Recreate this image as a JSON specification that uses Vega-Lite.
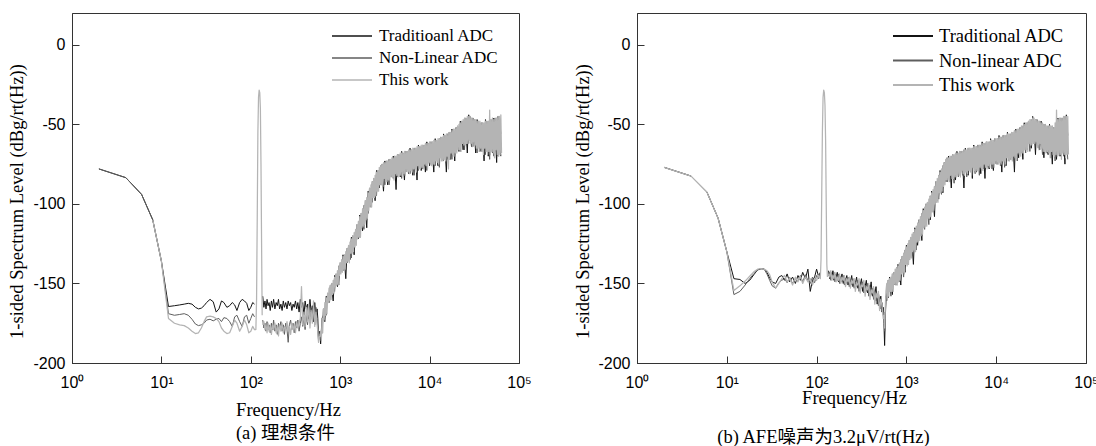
{
"$schema":"https://vega.github.io/schema/vega-lite/v6.json",
"padding":{"left":6,"top":12,"right":0,"bottom":0},
"background":"white",
"spacing":118,
"bounds":"flush",
"resolve":{"scale":{"color":"independent"},"legend":{"color":"independent"}},
"config":{
 "view":{"stroke":"#333333","strokeWidth":1},
 "axis":{"grid":false,"domainColor":"#333333","tickColor":"#333333","tickSize":-7,"labelFont":"Liberation Sans","labelFontSize":16,"labelColor":"#000000","titleFont":"Liberation Serif","titleFontSize":18.5,"titleFontWeight":"normal","titleColor":"#000000"},
 "legend":{"labelFont":"Liberation Serif","labelColor":"#000000","padding":0},
 "title":{"font":"Liberation Serif, Noto Sans CJK SC","fontSize":18.5,"fontWeight":"normal","color":"#000000","orient":"bottom","anchor":"middle","baseline":"alphabetic"}
},
"datasets":{
"a":[
{"f":2,"T":-78,"N":-78,"g":1},{"f":4,"T":-83.5,"N":-83.5,"g":1},{"f":6,"T":-94,"N":-94,"g":1},{"f":8,"T":-110,"N":-110,"W":-110,"g":1},{"f":10,"T":-136,"N":-136,"W":-136,"g":1},
{"f":12,"T":-164.5,"N":-169,"W":-172,"g":1},{"f":14,"T":-164,"N":-170,"W":-175,"g":1},{"f":16,"T":-163.5,"N":-169.5,"W":-176,"g":1},{"f":18,"T":-163,"N":-169,"W":-176.5,"g":1},{"f":20,"T":-162.5,"N":-170,"W":-178,"g":1},
{"f":22,"T":-163,"N":-172.5,"W":-180,"g":1},{"f":24,"T":-165,"N":-175.5,"W":-181.5,"g":1},{"f":26,"T":-166,"N":-176.5,"W":-181,"g":1},{"f":28,"T":-165.5,"N":-176,"W":-178,"g":1},{"f":30,"T":-164,"N":-175,"W":-174,"g":1},
{"f":32,"T":-162,"N":-173,"W":-171,"g":1},{"f":35,"T":-160,"N":-172.5,"W":-170.5,"g":1},{"f":38,"T":-161.5,"N":-173.5,"W":-171,"g":1},{"f":41,"T":-168,"N":-172.5,"W":-172,"g":1},{"f":44,"T":-166,"N":-172,"W":-174,"g":1},
{"f":47,"T":-161,"N":-174,"W":-178,"g":1},{"f":50,"T":-162,"N":-171.5,"W":-180,"g":1},{"f":54,"T":-165,"N":-172,"W":-181.5,"g":1},{"f":58,"T":-164,"N":-174,"W":-181,"g":1},{"f":62,"T":-162,"N":-177,"W":-177,"g":1},
{"f":66,"T":-163.5,"N":-171,"W":-173,"g":1},{"f":70,"T":-167,"N":-170,"W":-175,"g":1},{"f":75,"T":-162,"N":-174,"W":-180,"g":1},{"f":80,"T":-160,"N":-177,"W":-177,"g":1},{"f":85,"T":-161,"N":-171,"W":-173,"g":1},
{"f":90,"T":-162.5,"N":-170,"W":-176,"g":1},{"f":95,"T":-167,"N":-175,"W":-181,"g":1},{"f":100,"T":-165,"N":-172,"W":-180,"g":1},{"f":105,"T":-162,"N":-169,"W":-177,"g":1},{"f":110,"T":-163,"N":-171,"W":-179,"g":1},
{"f":114,"W":-179,"g":1},{"f":116,"W":-160,"g":1},{"f":118,"W":-110,"g":1},{"f":120,"W":-55,"g":1},{"f":122,"W":-33,"g":1},{"f":124,"W":-28.5,"g":1},{"f":126,"W":-30,"g":1},{"f":128,"W":-40,"g":1},{"f":130,"W":-75,"g":1},{"f":132,"W":-125,"g":1},{"f":134,"W":-170,"g":1},
{"f":136,"T":-158,"N":-173,"W":-176},{"f":140,"T":-165,"N":-178,"W":-174},{"f":144,"T":-161,"N":-175,"W":-179},{"f":148,"T":-166,"N":-180,"W":-176},{"f":152,"T":-160,"N":-174,"W":-181},
{"f":156,"T":-164,"N":-179,"W":-175},{"f":160,"T":-162,"N":-176,"W":-180},{"f":165,"T":-167,"N":-181,"W":-177},{"f":170,"T":-161,"N":-175,"W":-182},{"f":175,"T":-165,"N":-179,"W":-176},
{"f":180,"T":-160,"N":-173,"W":-179},{"f":186,"T":-166,"N":-180,"W":-175},{"f":192,"T":-162,"N":-176,"W":-181},{"f":198,"T":-164,"N":-182,"W":-177},{"f":204,"T":-160,"N":-175,"W":-183},
{"f":210,"T":-166,"N":-178,"W":-176},{"f":217,"T":-163,"N":-174,"W":-180},{"f":224,"T":-167,"N":-180,"W":-175},{"f":231,"T":-161,"N":-176,"W":-181},{"f":238,"T":-165,"N":-182,"W":-177},
{"f":246,"T":-162,"N":-175,"W":-179},{"f":254,"T":-166,"N":-179,"W":-174},{"f":262,"T":-161,"N":-187,"W":-180},{"f":270,"T":-164,"N":-176,"W":-177},{"f":279,"T":-162,"N":-173,"W":-182},
{"f":288,"T":-167,"N":-179,"W":-175},{"f":297,"T":-163,"N":-175,"W":-179},{"f":306,"T":-165,"N":-181,"W":-176},{"f":316,"T":-161,"N":-174,"W":-181},{"f":326,"T":-166,"N":-178,"W":-174},
{"f":336,"T":-162,"N":-173,"W":-178},{"f":347,"T":-168,"N":-180,"W":-175},{"f":358,"T":-160,"N":-175,"W":-172},{"f":369,"T":-165,"N":-171,"W":-152},{"f":381,"T":-162,"N":-177,"W":-176},
{"f":393,"T":-170,"N":-172,"W":-168},{"f":405,"T":-161,"N":-179,"W":-177},{"f":418,"T":-166,"N":-170,"W":-165},{"f":431,"T":-163,"N":-176,"W":-174},{"f":445,"T":-172,"N":-168,"W":-163},
{"f":459,"T":-160,"N":-175,"W":-178},{"f":473,"T":-168,"N":-166,"W":-167},{"f":488,"T":-164,"N":-172,"W":-175},{"f":503,"T":-174,"N":-169,"W":-161},{"f":519,"T":-162,"N":-176,"W":-177},
{"f":535,"T":-170,"N":-165,"W":-168},{"f":552,"T":-166,"N":-173,"W":-176},{"f":562,"T":-172,"N":-178,"W":-180},{"f":572,"T":-185,"N":-186,"W":-187},{"f":582,"T":-182,"N":-183,"W":-184},{"f":592,"T":-180,"N":-182,"W":-183},
{"f":604,"T":-188,"N":-183,"W":-180},{"f":615,"W":-186},{"f":626,"T":-172,"N":-181,"W":-172},{"f":637,"W":-181},{"f":649,"T":-170,"N":-166,"W":-166},{"f":661,"W":-173},
{"f":673,"T":-174,"N":-166,"W":-162},{"f":685,"W":-170},{"f":698,"T":-158,"N":-170,"W":-159},{"f":711,"W":-169},{"f":723,"T":-160,"N":-156,"W":-156},{"f":736,"W":-162},
{"f":750,"T":-162,"N":-157,"W":-153},{"f":764,"W":-161},{"f":777,"T":-151,"N":-159,"W":-151},{"f":791,"W":-160},{"f":806,"T":-153.5,"N":-150,"W":-150},{"f":821,"W":-157},
{"f":835,"T":-161,"N":-151.5,"W":-148},{"f":850,"W":-156},{"f":866,"T":-145,"N":-155,"W":-146},{"f":882,"W":-152},{"f":898,"T":-147.5,"N":-144,"W":-144},{"f":914,"W":-151},
{"f":931,"T":-152,"N":-145.5,"W":-142},{"f":948,"W":-151},{"f":965,"T":-139,"N":-151,"W":-139},{"f":982,"W":-145},{"f":1000,"T":-140.5,"N":-137,"W":-137},{"f":1018,"W":-144},
{"f":1037,"T":-142,"N":-138.5,"W":-135},{"f":1056,"W":-143},{"f":1075,"T":-132,"N":-142,"W":-133},{"f":1094,"W":-141},{"f":1114,"T":-136,"N":-132,"W":-132},{"f":1134,"W":-141},
{"f":1155,"T":-147,"N":-134,"W":-130},{"f":1176,"W":-137},{"f":1197,"T":-128,"N":-137,"W":-128},{"f":1219,"W":-136},{"f":1241,"T":-130.5,"N":-126,"W":-126},{"f":1263,"W":-137},
{"f":1287,"T":-135,"N":-128.5,"W":-124},{"f":1310,"W":-131},{"f":1334,"T":-121,"N":-134,"W":-122},{"f":1358,"W":-131},{"f":1383,"T":-124.5,"N":-120,"W":-120},{"f":1408,"W":-130},
{"f":1433,"T":-132,"N":-122.5,"W":-118},{"f":1459,"W":-127},{"f":1486,"T":-116,"N":-125,"W":-116},{"f":1513,"W":-126},{"f":1540,"T":-118,"N":-113,"W":-113},{"f":1568,"W":-122},
{"f":1597,"T":-122,"N":-116,"W":-111},{"f":1626,"W":-121},{"f":1655,"T":-107,"N":-121,"W":-108},{"f":1685,"W":-121},{"f":1716,"T":-111.5,"N":-106,"W":-106},{"f":1747,"W":-115},
{"f":1778,"T":-117,"N":-108.5,"W":-103},{"f":1810,"W":-114},{"f":1843,"T":-101,"N":-116,"W":-101},{"f":1876,"W":-113},{"f":1911,"T":-104,"N":-98,"W":-98},{"f":1946,"W":-110},
{"f":1981,"T":-115,"N":-102,"W":-96},{"f":2017,"W":-109},{"f":2054,"T":-92,"N":-106,"W":-93},{"f":2091,"W":-104},{"f":2129,"T":-96,"N":-90,"W":-90},{"f":2167,"W":-102},
{"f":2207,"T":-102,"N":-94,"W":-88},{"f":2247,"W":-102},{"f":2288,"T":-86,"N":-99,"W":-86},{"f":2329,"W":-96},{"f":2371,"T":-90,"N":-84,"W":-84},{"f":2414,"W":-96},
{"f":2458,"T":-98,"N":-88,"W":-82},{"f":2502,"W":-95},{"f":2548,"T":-79,"N":-95,"W":-80},{"f":2594,"W":-92},{"f":2642,"T":-85,"N":-79,"W":-79},{"f":2690,"W":-92},
{"f":2738,"T":-90,"N":-83,"W":-77},{"f":2788,"W":-88},{"f":2839,"T":-76,"N":-88,"W":-76},{"f":2890,"W":-88},{"f":2943,"T":-81,"N":-75,"W":-75},{"f":2996,"W":-89},
{"f":3051,"T":-92,"N":-80,"W":-74},{"f":3106,"W":-84},{"f":3162,"T":-73,"N":-88,"W":-74},{"f":3219,"W":-86},{"f":3278,"T":-79,"N":-73,"W":-73},{"f":3337,"W":-86},
{"f":3398,"T":-88,"N":-79,"W":-73},{"f":3459,"W":-85},{"f":3523,"T":-72,"N":-88,"W":-72},{"f":3587,"W":-85},{"f":3652,"T":-78,"N":-72,"W":-72},{"f":3718,"W":-83},
{"f":3786,"T":-83,"N":-77,"W":-71},{"f":3854,"W":-83},{"f":3924,"T":-70,"N":-84,"W":-71},{"f":3995,"W":-85},{"f":4068,"T":-76.5,"N":-70,"W":-70},{"f":4141,"W":-81},
{"f":4217,"T":-91,"N":-76,"W":-70},{"f":4293,"W":-82},{"f":4372,"T":-69,"N":-83,"W":-69},{"f":4451,"W":-83},{"f":4532,"T":-75.5,"N":-69,"W":-69},{"f":4614,"W":-82},
{"f":4698,"T":-83,"N":-74.5,"W":-68},{"f":4783,"W":-82},{"f":4870,"T":-67,"N":-84,"W":-68},{"f":4958,"W":-80},{"f":5048,"T":-74.5,"N":-68,"W":-68},{"f":5139,"W":-81},
{"f":5233,"T":-85,"N":-73.5,"W":-67},{"f":5327,"W":-82},{"f":5425,"T":-67,"N":-80,"W":-67},{"f":5523,"W":-78},{"f":5623,"T":-73.5,"N":-67,"W":-67},{"f":5724,"W":-80},
{"f":5829,"T":-81,"N":-73,"W":-66},{"f":5934,"W":-81},{"f":6043,"T":-65,"N":-81,"W":-66},{"f":6152,"W":-79},{"f":6264,"T":-72.5,"N":-66,"W":-66},{"f":6377,"W":-80},
{"f":6494,"T":-82,"N":-72,"W":-65},{"f":6611,"W":-78},{"f":6732,"T":-65,"N":-82,"W":-65},{"f":6853,"W":-78},{"f":6978,"T":-71.5,"N":-65,"W":-65},{"f":7104,"W":-80},
{"f":7234,"T":-85,"N":-71,"W":-64},{"f":7364,"W":-76},{"f":7499,"T":-63,"N":-79,"W":-64},{"f":7634,"W":-78},{"f":7774,"T":-70.5,"N":-64,"W":-64},{"f":7914,"W":-78},
{"f":8058,"T":-79,"N":-70,"W":-63},{"f":8203,"W":-77},{"f":8354,"T":-63,"N":-78,"W":-63},{"f":8504,"W":-78},{"f":8660,"T":-69.5,"N":-63,"W":-63},{"f":8816,"W":-75},
{"f":8977,"T":-80,"N":-69,"W":-62},{"f":9139,"W":-76},{"f":9306,"T":-61,"N":-79,"W":-62},{"f":9474,"W":-78},{"f":9647,"T":-69,"N":-62,"W":-62},{"f":9821,"W":-74},
{"f":10000,"T":-76,"N":-68,"W":-61},{"f":10180,"W":-75},{"f":10366,"T":-61,"N":-75,"W":-61},{"f":10553,"W":-76},{"f":10746,"T":-68,"N":-61,"W":-61},{"f":10939,"W":-75},
{"f":11140,"T":-80,"N":-67,"W":-60},{"f":11341,"W":-75},{"f":11548,"T":-59,"N":-76,"W":-60},{"f":11756,"W":-73},{"f":11971,"T":-67,"N":-60,"W":-60},{"f":12186,"W":-74},
{"f":12410,"T":-76,"N":-66,"W":-59},{"f":12633,"W":-75},{"f":12865,"T":-59,"N":-77,"W":-59},{"f":13097,"W":-71},{"f":13335,"T":-65.5,"N":-58,"W":-58},{"f":13575,"W":-73},
{"f":13824,"T":-72,"N":-65,"W":-58},{"f":14073,"W":-73},{"f":14330,"T":-56,"N":-73,"W":-57},{"f":14588,"W":-72},{"f":14856,"T":-64.5,"N":-57,"W":-57},{"f":15123,"W":-73},
{"f":15399,"T":-80,"N":-63.5,"W":-56},{"f":15676,"W":-70},{"f":15965,"T":-56,"N":-72,"W":-56},{"f":16252,"W":-78},{"f":16550,"T":-62.5,"N":-55,"W":-55},{"f":16848,"W":-72},
{"f":17157,"T":-72,"N":-62.5,"W":-55},{"f":17466,"W":-68},{"f":17783,"T":-53,"N":-72,"W":-54},{"f":18103,"W":-69},{"f":18434,"T":-61,"N":-53,"W":-53},{"f":18766,"W":-70},
{"f":19109,"T":-73,"N":-60.5,"W":-53},{"f":19453,"W":-68},{"f":19810,"T":-52,"N":-67,"W":-52},{"f":20167,"W":-68},{"f":20535,"T":-59,"N":-51,"W":-51},{"f":20905,"W":-66},
{"f":21288,"T":-67,"N":-58,"W":-50},{"f":21671,"W":-66},{"f":22067,"T":-48,"N":-67,"W":-49},{"f":22464,"W":-67},{"f":22875,"T":-56,"N":-48,"W":-48},{"f":23287,"W":-62},
{"f":23714,"T":-66,"N":-55,"W":-47},{"f":24141,"W":-63},{"f":24582,"T":-46,"N":-66,"W":-46},{"f":25024,"W":-63},{"f":25483,"T":-54,"N":-46,"W":-46},{"f":25942,"W":-62},
{"f":26416,"T":-68,"N":-53,"W":-45},{"f":26891,"W":-62},{"f":27384,"T":-44,"N":-62,"W":-45},{"f":27877,"W":-60},{"f":28387,"T":-53.5,"N":-45,"W":-45},{"f":28898,"W":-62},
{"f":29427,"T":-64,"N":-54,"W":-46},{"f":29957,"W":-64},{"f":30505,"T":-46,"N":-64,"W":-46},{"f":31054,"W":-61},{"f":31623,"T":-55,"N":-47,"W":-47},{"f":32192,"W":-63},
{"f":32781,"T":-68,"N":-55.5,"W":-47},{"f":33371,"W":-65},{"f":33982,"T":-47,"N":-68,"W":-48},{"f":34594,"W":-65},{"f":35227,"T":-57,"N":-48,"W":-48},{"f":35861,"W":-67},
{"f":36517,"T":-67,"N":-57,"W":-48},{"f":37174,"W":-65},{"f":37855,"T":-49,"N":-67,"W":-49},{"f":38536,"W":-67},{"f":39242,"T":-58,"N":-49,"W":-49},{"f":39948,"W":-69},
{"f":40679,"T":-73,"N":-58,"W":-49},{"f":41411,"W":-65},{"f":42170,"T":-47,"N":-69,"W":-48},{"f":42929,"W":-67},{"f":43714,"T":-58,"N":-48,"W":-48},{"f":44501,"W":-69},
{"f":45316,"T":-70,"N":-57.5,"W":-48},{"f":46132,"W":-67},{"f":46976,"T":-47,"N":-72,"W":-41},{"f":47822,"W":-69},{"f":48697,"T":-57.5,"N":-47,"W":-47},{"f":49574,"W":-67},
{"f":50480,"T":-68,"N":-57,"W":-46},{"f":51389,"W":-68},{"f":52330,"T":-46,"N":-70,"W":-47},{"f":53272,"W":-71},{"f":54246,"T":-57,"N":-46,"W":-46},{"f":55222,"W":-66},
{"f":56234,"T":-74,"N":-57.5,"W":-46},{"f":57246,"W":-69},{"f":58294,"T":-45,"N":-70,"W":-45},{"f":59343,"W":-70},{"f":60430,"T":-57,"N":-45,"W":-45},{"f":61518,"W":-69},
{"f":62643,"T":-70,"N":-56,"W":-44},{"f":63770,"W":-68}
],
"b":[
{"f":2,"T":-77,"N":-77,"W":-77,"g":1},{"f":4,"T":-82.5,"N":-82.5,"W":-82.5,"g":1},{"f":6,"T":-92.5,"N":-92.5,"W":-92.5,"g":1},{"f":8,"T":-109,"N":-109,"W":-109,"g":1},{"f":10,"T":-130,"N":-130,"W":-130,"g":1},
{"f":12,"T":-147,"N":-157,"W":-154.5,"g":1},{"f":14,"T":-147.5,"N":-155,"W":-151.5,"g":1},{"f":16,"T":-150,"N":-151,"W":-148.5,"g":1},{"f":18,"T":-148,"N":-147,"W":-145.5,"g":1},{"f":20,"T":-144.5,"N":-143.8,"W":-142.7,"g":1},
{"f":22,"T":-141.5,"N":-141.5,"W":-141,"g":1},{"f":24,"T":-140.8,"N":-140.6,"W":-140.6,"g":1},{"f":26,"T":-140.8,"N":-141,"W":-141,"g":1},{"f":28,"T":-143,"N":-144,"W":-142,"g":1},{"f":30,"T":-146.5,"N":-148,"W":-144.5,"g":1},
{"f":32,"T":-149,"N":-151.5,"W":-149,"g":1},{"f":35,"T":-150,"N":-153,"W":-153,"g":1},{"f":38,"T":-146,"N":-149.5,"W":-150,"g":1},{"f":41,"T":-145,"N":-148,"W":-147,"g":1},{"f":44,"T":-148,"N":-147,"W":-145,"g":1},
{"f":47,"T":-144,"N":-149.5,"W":-149,"g":1},{"f":50,"T":-149,"N":-146,"W":-146.5,"g":1},{"f":54,"T":-146,"N":-150,"W":-151,"g":1},{"f":58,"T":-150,"N":-147,"W":-146,"g":1},{"f":62,"T":-145,"N":-148.5,"W":-149,"g":1},
{"f":66,"T":-148,"N":-145,"W":-145.5,"g":1},{"f":70,"T":-143,"N":-149,"W":-150,"g":1},{"f":75,"T":-147,"N":-144.5,"W":-146,"g":1},{"f":80,"T":-141,"N":-148,"W":-149,"g":1},{"f":85,"T":-155,"N":-150,"W":-147,"g":1},
{"f":90,"T":-148,"N":-146,"W":-151,"g":1},{"f":95,"T":-146,"N":-149.5,"W":-147,"g":1},{"f":100,"T":-141,"N":-145,"W":-148,"g":1},{"f":105,"T":-145.5,"N":-147,"W":-145,"g":1},{"f":110,"T":-143,"N":-144,"W":-147,"g":1},
{"f":112,"W":-135,"g":1},{"f":114,"W":-95,"g":1},{"f":116,"W":-55,"g":1},{"f":118,"W":-33,"g":1},{"f":120,"W":-28.5,"g":1},{"f":122,"W":-30,"g":1},{"f":124,"W":-38,"g":1},{"f":126,"W":-60,"g":1},{"f":128,"W":-100,"g":1},{"f":130,"W":-138,"g":1},{"f":132,"W":-146,"g":1},
{"f":136,"T":-142,"N":-145,"W":-144},{"f":140,"T":-147,"N":-143,"W":-146},{"f":144,"T":-143,"N":-148,"W":-142},{"f":148,"T":-146,"N":-144,"W":-148},{"f":152,"T":-142,"N":-147,"W":-145},
{"f":156,"T":-148,"N":-143,"W":-147},{"f":160,"T":-144,"N":-149,"W":-143},{"f":165,"T":-146,"N":-145,"W":-149},{"f":170,"T":-143,"N":-148,"W":-146},{"f":175,"T":-149,"N":-144,"W":-148},
{"f":180,"T":-145,"N":-150,"W":-144},{"f":186,"T":-147,"N":-146,"W":-150},{"f":192,"T":-144,"N":-149,"W":-146},{"f":198,"T":-150,"N":-145,"W":-148},{"f":204,"T":-146,"N":-151,"W":-145},
{"f":210,"T":-148,"N":-147,"W":-152},{"f":217,"T":-145,"N":-150,"W":-147},{"f":224,"T":-151,"N":-146,"W":-149},{"f":231,"T":-147,"N":-152,"W":-146},{"f":238,"T":-149,"N":-148,"W":-153},
{"f":246,"T":-145,"N":-151,"W":-148},{"f":254,"T":-152,"N":-147,"W":-150},{"f":262,"T":-148,"N":-153,"W":-147},{"f":270,"T":-150,"N":-149,"W":-155},{"f":279,"T":-146,"N":-152,"W":-150},
{"f":288,"T":-153,"N":-148,"W":-151},{"f":297,"T":-149,"N":-155,"W":-147},{"f":306,"T":-151,"N":-150,"W":-156},{"f":316,"T":-147,"N":-153,"W":-151},{"f":326,"T":-155,"N":-149,"W":-152},
{"f":336,"T":-150,"N":-156,"W":-148},{"f":347,"T":-152,"N":-151,"W":-158},{"f":358,"T":-148,"N":-155,"W":-152},{"f":369,"T":-156,"N":-150,"W":-154},{"f":381,"T":-151,"N":-158,"W":-150},
{"f":393,"T":-154,"N":-152,"W":-160},{"f":405,"T":-149,"N":-157,"W":-154},{"f":418,"T":-158,"N":-153,"W":-156},{"f":431,"T":-153,"N":-160,"W":-152},{"f":445,"T":-157,"N":-155,"W":-163},
{"f":459,"T":-152,"N":-161,"W":-156},{"f":473,"T":-163,"N":-157,"W":-159},{"f":488,"T":-156,"N":-164,"W":-155},{"f":503,"T":-162,"N":-159,"W":-167},{"f":519,"T":-158,"N":-166,"W":-160},
{"f":535,"T":-168,"N":-162,"W":-164},{"f":552,"T":-165,"N":-170,"W":-172},{"f":562,"T":-175,"N":-168,"W":-170},{"f":572,"T":-189,"N":-180,"W":-178},{"f":582,"T":-172,"N":-170,"W":-165},{"f":592,"T":-160,"N":-158,"W":-155},
{"f":604,"T":-155,"N":-161,"W":-150},{"f":615,"W":-160},{"f":626,"T":-159,"N":-148,"W":-148},{"f":637,"W":-158},{"f":649,"T":-146,"N":-151.5,"W":-147},{"f":661,"W":-155},
{"f":673,"T":-150.5,"N":-158,"W":-146},{"f":685,"W":-155},{"f":698,"T":-157,"N":-144,"W":-144},{"f":711,"W":-155},{"f":723,"T":-143,"N":-147.5,"W":-143},{"f":736,"W":-150},
{"f":750,"T":-146,"N":-151,"W":-141},{"f":764,"W":-151},{"f":777,"T":-151,"N":-140,"W":-140},{"f":791,"W":-151},{"f":806,"T":-138,"N":-144,"W":-139},{"f":821,"W":-149},
{"f":835,"T":-142,"N":-149,"W":-137},{"f":850,"W":-148},{"f":866,"T":-151,"N":-135,"W":-135},{"f":882,"W":-144},{"f":898,"T":-133,"N":-138,"W":-133},{"f":914,"W":-143},
{"f":931,"T":-136.5,"N":-146,"W":-131},{"f":948,"W":-144},{"f":965,"T":-143,"N":-129,"W":-129},{"f":982,"W":-138},{"f":1000,"T":-126,"N":-133,"W":-127},{"f":1018,"W":-139},
{"f":1037,"T":-131,"N":-138,"W":-125},{"f":1056,"W":-138},{"f":1075,"T":-135,"N":-123,"W":-123},{"f":1094,"W":-135},{"f":1114,"T":-121,"N":-127,"W":-121},{"f":1134,"W":-134},
{"f":1155,"T":-125,"N":-132,"W":-119},{"f":1176,"W":-130},{"f":1197,"T":-138,"N":-118,"W":-118},{"f":1219,"W":-129},{"f":1241,"T":-115,"N":-122,"W":-116},{"f":1263,"W":-130},
{"f":1287,"T":-120,"N":-129,"W":-114},{"f":1310,"W":-124},{"f":1334,"T":-126,"N":-112,"W":-112},{"f":1358,"W":-124},{"f":1383,"T":-110,"N":-116,"W":-110},{"f":1408,"W":-123},
{"f":1433,"T":-114,"N":-120,"W":-108},{"f":1459,"W":-120},{"f":1486,"T":-123,"N":-106,"W":-106},{"f":1513,"W":-119},{"f":1540,"T":-103,"N":-110,"W":-104},{"f":1568,"W":-115},
{"f":1597,"T":-108,"N":-116,"W":-102},{"f":1626,"W":-114},{"f":1655,"T":-113,"N":-100,"W":-100},{"f":1685,"W":-114},{"f":1716,"T":-99,"N":-105,"W":-99},{"f":1747,"W":-109},
{"f":1778,"T":-103,"N":-113,"W":-97},{"f":1810,"W":-109},{"f":1843,"T":-110,"N":-95,"W":-95},{"f":1876,"W":-108},{"f":1911,"T":-92,"N":-99,"W":-93},{"f":1946,"W":-105},
{"f":1981,"T":-97,"N":-104,"W":-91},{"f":2017,"W":-104},{"f":2054,"T":-108,"N":-89,"W":-89},{"f":2091,"W":-100},{"f":2129,"T":-86,"N":-92.5,"W":-86},{"f":2167,"W":-99},
{"f":2207,"T":-90.5,"N":-98,"W":-84},{"f":2247,"W":-99},{"f":2288,"T":-97,"N":-82,"W":-82},{"f":2329,"W":-93},{"f":2371,"T":-79,"N":-86.5,"W":-80},{"f":2414,"W":-93},
{"f":2458,"T":-84.5,"N":-94,"W":-78},{"f":2502,"W":-92},{"f":2548,"T":-93,"N":-76,"W":-76},{"f":2594,"W":-89},{"f":2642,"T":-74,"N":-80.5,"W":-74},{"f":2690,"W":-88},
{"f":2738,"T":-79,"N":-86,"W":-72},{"f":2788,"W":-85},{"f":2839,"T":-86,"N":-71,"W":-71},{"f":2890,"W":-85},{"f":2943,"T":-70,"N":-77.5,"W":-71},{"f":2996,"W":-86},
{"f":3051,"T":-77,"N":-86,"W":-70},{"f":3106,"W":-82},{"f":3162,"T":-90,"N":-70,"W":-70},{"f":3219,"W":-84},{"f":3278,"T":-69,"N":-76,"W":-69},{"f":3337,"W":-84},
{"f":3398,"T":-76,"N":-87,"W":-69},{"f":3459,"W":-83},{"f":3523,"T":-85,"N":-68,"W":-68},{"f":3587,"W":-83},{"f":3652,"T":-67,"N":-75,"W":-68},{"f":3718,"W":-81},
{"f":3786,"T":-75,"N":-83,"W":-68},{"f":3854,"W":-82},{"f":3924,"T":-81,"N":-67,"W":-67},{"f":3995,"W":-83},{"f":4068,"T":-67,"N":-74,"W":-67},{"f":4141,"W":-79},
{"f":4217,"T":-74,"N":-82,"W":-67},{"f":4293,"W":-81},{"f":4372,"T":-90,"N":-66,"W":-66},{"f":4451,"W":-82},{"f":4532,"T":-65,"N":-73,"W":-66},{"f":4614,"W":-80},
{"f":4698,"T":-73,"N":-83,"W":-66},{"f":4783,"W":-81},{"f":4870,"T":-82,"N":-65,"W":-65},{"f":4958,"W":-79},{"f":5048,"T":-65,"N":-72.5,"W":-65},{"f":5139,"W":-80},
{"f":5233,"T":-72.5,"N":-80,"W":-65},{"f":5327,"W":-82},{"f":5425,"T":-84,"N":-65,"W":-65},{"f":5523,"W":-77},{"f":5623,"T":-63,"N":-71.5,"W":-64},{"f":5724,"W":-79},
{"f":5829,"T":-71.5,"N":-81,"W":-64},{"f":5934,"W":-80},{"f":6043,"T":-80,"N":-64,"W":-64},{"f":6152,"W":-79},{"f":6264,"T":-63,"N":-70.5,"W":-63},{"f":6377,"W":-79},
{"f":6494,"T":-70.5,"N":-82,"W":-63},{"f":6611,"W":-77},{"f":6732,"T":-81,"N":-63,"W":-63},{"f":6853,"W":-78},{"f":6978,"T":-61,"N":-69.5,"W":-62},{"f":7104,"W":-79},
{"f":7234,"T":-69.5,"N":-78,"W":-62},{"f":7364,"W":-75},{"f":7499,"T":-84,"N":-62,"W":-62},{"f":7634,"W":-77},{"f":7774,"T":-61,"N":-69,"W":-61},{"f":7914,"W":-78},
{"f":8058,"T":-68.5,"N":-77,"W":-61},{"f":8203,"W":-76},{"f":8354,"T":-78,"N":-61,"W":-61},{"f":8504,"W":-77},{"f":8660,"T":-59,"N":-68,"W":-60},{"f":8816,"W":-75},
{"f":8977,"T":-67.5,"N":-78,"W":-60},{"f":9139,"W":-75},{"f":9306,"T":-79,"N":-60,"W":-60},{"f":9474,"W":-77},{"f":9647,"T":-59,"N":-67,"W":-59},{"f":9821,"W":-73},
{"f":10000,"T":-67,"N":-75,"W":-59},{"f":10180,"W":-75},{"f":10366,"T":-75,"N":-59,"W":-59},{"f":10553,"W":-75},{"f":10746,"T":-57,"N":-66,"W":-58},{"f":10939,"W":-74},
{"f":11140,"T":-66,"N":-76,"W":-58},{"f":11341,"W":-75},{"f":11548,"T":-80,"N":-58,"W":-58},{"f":11756,"W":-73},{"f":11971,"T":-57,"N":-65,"W":-57},{"f":12186,"W":-73},
{"f":12410,"T":-65,"N":-77,"W":-57},{"f":12633,"W":-75},{"f":12865,"T":-76,"N":-57,"W":-57},{"f":13097,"W":-71},{"f":13335,"T":-55,"N":-64.5,"W":-56},{"f":13575,"W":-73},
{"f":13824,"T":-64,"N":-73,"W":-56},{"f":14073,"W":-73},{"f":14330,"T":-72,"N":-56,"W":-56},{"f":14588,"W":-72},{"f":14856,"T":-55,"N":-63.5,"W":-55},{"f":15123,"W":-73},
{"f":15399,"T":-63,"N":-72,"W":-55},{"f":15676,"W":-70},{"f":15965,"T":-80,"N":-54,"W":-54},{"f":16252,"W":-71},{"f":16550,"T":-53,"N":-62,"W":-54},{"f":16848,"W":-72},
{"f":17157,"T":-61.5,"N":-73,"W":-53},{"f":17466,"W":-68},{"f":17783,"T":-71,"N":-53,"W":-53},{"f":18103,"W":-69},{"f":18434,"T":-52,"N":-60.5,"W":-52},{"f":18766,"W":-70},
{"f":19109,"T":-59.5,"N":-68,"W":-51},{"f":19453,"W":-68},{"f":19810,"T":-72,"N":-51,"W":-51},{"f":20167,"W":-68},{"f":20535,"T":-49,"N":-58.5,"W":-50},{"f":20905,"W":-66},
{"f":21288,"T":-57.5,"N":-68,"W":-49},{"f":21671,"W":-66},{"f":22067,"T":-66,"N":-49,"W":-49},{"f":22464,"W":-67},{"f":22875,"T":-48,"N":-56,"W":-48},{"f":23287,"W":-62},
{"f":23714,"T":-55,"N":-67,"W":-47},{"f":24141,"W":-63},{"f":24582,"T":-65,"N":-47,"W":-47},{"f":25024,"W":-63},{"f":25483,"T":-45,"N":-54,"W":-46},{"f":25942,"W":-62},
{"f":26416,"T":-53.5,"N":-62,"W":-46},{"f":26891,"W":-62},{"f":27384,"T":-69,"N":-47,"W":-47},{"f":27877,"W":-61},{"f":28387,"T":-47,"N":-55,"W":-47},{"f":28898,"W":-63},
{"f":29427,"T":-56,"N":-65,"W":-48},{"f":29957,"W":-66},{"f":30505,"T":-66,"N":-48,"W":-48},{"f":31054,"W":-62},{"f":31623,"T":-48,"N":-57,"W":-49},{"f":32192,"W":-65},
{"f":32781,"T":-57.5,"N":-69,"W":-49},{"f":33371,"W":-67},{"f":33982,"T":-71,"N":-50,"W":-50},{"f":34594,"W":-67},{"f":35227,"T":-50,"N":-58.5,"W":-50},{"f":35861,"W":-68},
{"f":36517,"T":-59.5,"N":-68,"W":-51},{"f":37174,"W":-67},{"f":37855,"T":-69,"N":-51,"W":-51},{"f":38536,"W":-68},{"f":39242,"T":-50,"N":-60,"W":-51},{"f":39948,"W":-71},
{"f":40679,"T":-60,"N":-71,"W":-51},{"f":41411,"W":-67},{"f":42170,"T":-75,"N":-51,"W":-51},{"f":42929,"W":-69},{"f":43714,"T":-52,"N":-60.5,"W":-52},{"f":44501,"W":-70},
{"f":45316,"T":-59,"N":-73,"W":-49},{"f":46132,"W":-69},{"f":46976,"T":-72,"N":-47,"W":-41},{"f":47822,"W":-70},{"f":48697,"T":-46,"N":-58,"W":-47},{"f":49574,"W":-68},
{"f":50480,"T":-57.5,"N":-70,"W":-46},{"f":51389,"W":-69},{"f":52330,"T":-70,"N":-46,"W":-46},{"f":53272,"W":-72},{"f":54246,"T":-46,"N":-58,"W":-46},{"f":55222,"W":-68},
{"f":56234,"T":-57,"N":-70,"W":-45},{"f":57246,"W":-69},{"f":58294,"T":-75,"N":-45,"W":-45},{"f":59343,"W":-71},{"f":60430,"T":-44,"N":-57,"W":-45},{"f":61518,"W":-69},
{"f":62643,"T":-57,"N":-72,"W":-45},{"f":63770,"W":-69}
]
},
"hconcat":[
{
 "width":447,"height":350,
 "data":{"name":"a"},
 "transform":[{"fold":["T","N","W"],"as":["s","v"]},{"filter":"isValid(datum.v)"}],
 "title":{"text":"(a) 理想条件","offset":5,"dx":-10},
 "encoding":{
  "x":{"field":"f","type":"quantitative","scale":{"type":"log","domain":[1,100000],"nice":false},
   "axis":{"title":"Frequency/Hz","values":[1,10,100,1000,10000,100000],"labelExpr":"'10' + ['⁰','¹','²','³','⁴','⁵'][round(log(datum.value)/LN10)]","labelPadding":18,"labelFlush":false,"labelOverlap":false,"titleX":216,"titleY":52,"titleBaseline":"alphabetic","titleAlign":"center"}},
  "y":{"field":"v","type":"quantitative","scale":{"domain":[-200,20],"nice":false,"zero":false},
   "axis":{"title":"1-sided Spectrum Level (dBg/rt(Hz))","values":[-200,-150,-100,-50,0],"labelExpr":"toString(datum.value)","labelPadding":14,"titleX":-56,"titleY":188,"titleBaseline":"middle","titleAlign":"center"}},
  "color":{"field":"s","type":"nominal","scale":{"domain":["T","N","W"],"range":["#141414","#5e5e5e","#b4b4b4"]},
   "legend":{"title":null,"orient":"none","legendX":269,"legendY":12,"symbolType":"M-2,0L2,0","symbolSize":400,"symbolStrokeWidth":1.5,"labelFontSize":17,"labelOffset":16,"rowPadding":3,"labelExpr":"datum.label == 'T' ? 'Traditioanl ADC' : datum.label == 'N' ? 'Non-Linear ADC' : 'This work'"}},
  "detail":{"field":"g","type":"nominal"}
 },
 "layer":[
  {"transform":[{"filter":"datum.s != 'W'"}],"mark":{"type":"line","strokeWidth":1,"strokeJoin":"round"}},
  {"transform":[{"filter":"datum.s == 'W'"}],"mark":{"type":"line","strokeWidth":1.25,"strokeJoin":"round"}}
 ]
},
{
 "width":449,"height":350,
 "data":{"name":"b"},
 "transform":[{"fold":["T","N","W"],"as":["s","v"]},{"filter":"isValid(datum.v)"}],
 "title":{"text":"(b) AFE噪声为3.2μV/rt(Hz)","offset":21,"dx":-38},
 "encoding":{
  "x":{"field":"f","type":"quantitative","scale":{"type":"log","domain":[1,100000],"nice":false},
   "axis":{"title":"Frequency/Hz","values":[1,10,100,1000,10000,100000],"labelExpr":"'10' + ['⁰','¹','²','³','⁴','⁵'][round(log(datum.value)/LN10)]","labelPadding":18,"labelFlush":false,"labelOverlap":false,"titleX":217,"titleY":40,"titleBaseline":"alphabetic","titleAlign":"center"}},
  "y":{"field":"v","type":"quantitative","scale":{"domain":[-200,20],"nice":false,"zero":false},
   "axis":{"title":"1-sided Spectrum Level (dBg/rt(Hz))","values":[-200,-150,-100,-50,0],"labelExpr":"toString(datum.value)","labelPadding":14,"titleX":-55,"titleY":188,"titleBaseline":"middle","titleAlign":"center"}},
  "color":{"field":"s","type":"nominal","scale":{"domain":["T","N","W"],"range":["#141414","#5e5e5e","#b4b4b4"]},
   "legend":{"title":null,"orient":"none","legendX":265,"legendY":12,"symbolType":"M-2,0L2,0","symbolSize":400,"symbolStrokeWidth":2,"labelFontSize":18.5,"labelOffset":15,"rowPadding":3.5,"labelExpr":"datum.label == 'T' ? 'Traditional ADC' : datum.label == 'N' ? 'Non-linear ADC' : 'This work'"}},
  "detail":{"field":"g","type":"nominal"}
 },
 "layer":[
  {"transform":[{"filter":"datum.s != 'W'"}],"mark":{"type":"line","strokeWidth":1,"strokeJoin":"round"}},
  {"transform":[{"filter":"datum.s == 'W'"}],"mark":{"type":"line","strokeWidth":1.25,"strokeJoin":"round"}}
 ]
}
]
}
